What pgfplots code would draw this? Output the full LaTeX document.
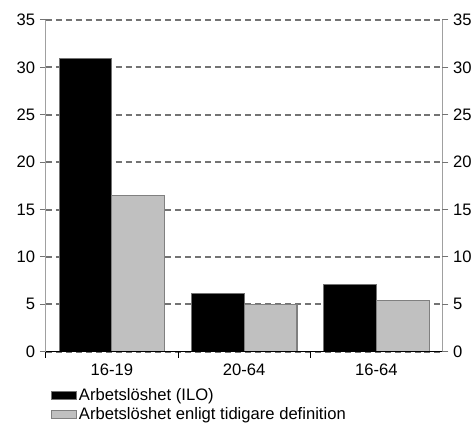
\documentclass[border=0pt]{standalone}
\usepackage{pgfplots}
\pgfplotsset{compat=1.18}
\usepackage{fontspec}
\setmainfont{Liberation Sans}
\definecolor{gridgray}{HTML}{737373}
\definecolor{axisgray}{HTML}{A0A0A0}
\definecolor{barblack}{HTML}{000000}
\definecolor{bargray}{HTML}{C0C0C0}
\definecolor{edgegray}{HTML}{808080}
\begin{document}
\begin{tikzpicture}
\pgfplotsset{
  every axis/.append style={
    scale only axis, width=298.5pt, height=249.75pt,
    xmin=-0.5, xmax=2.5, ymin=0, ymax=35,
    ytick={0,5,...,35},
    tick align=outside, major tick length=4.5pt,
    /pgf/number format/assume math mode=true,
    tick label style={font=\fontsize{12.5}{15}\selectfont},
    axis line style={draw=none},
    y tick style={gridgray, line width=0.8pt},
  }
}
\begin{axis}[
  name=main,
  clip=false,
  ybar=0pt, bar width=0.4,
  xtick={0,1,2},
  xticklabels={16-19,20-64,16-64},
  xtick pos=bottom,
  x tick style={draw=none},
  extra x ticks={-0.5,0.5,1.5},
  extra x tick labels={},
  extra x tick style={grid=none, x tick style={draw=black, line width=0.8pt}},
  xticklabel style={yshift=-1pt},
  ytick pos=left,
  ymajorgrids,
  grid style={gridgray, dash pattern=on 4.5pt off 3pt, line width=1.5pt},
  legend style={at={(rel axis cs:0,0)}, anchor=north west, xshift=4pt, yshift=-26.5pt,
    draw=none, fill=none, inner sep=0pt, row sep=1.25pt,
    font=\fontsize{12.5}{15}\selectfont,
    nodes={inner sep=1.2pt}},
  legend cell align=left,
  legend image code/.code={\draw[#1, line width=0.8pt] (0pt,-3pt) rectangle (18.75pt,3pt);},
]
\addplot[fill=barblack, draw=gridgray, line width=0.8pt] coordinates {(0,30.9) (1,6.1) (2,7.1)};
\addlegendentry{Arbetslöshet (ILO)}
\addplot[fill=bargray, draw=edgegray, line width=0.8pt] coordinates {(0,16.5) (1,5.0) (2,5.4)};
\addlegendentry{Arbetslöshet enligt tidigare definition}
\draw[axisgray, line width=0.8pt] (rel axis cs:0,0) -- (rel axis cs:0,1);
\draw[axisgray, line width=0.8pt] (rel axis cs:1,0) -- (rel axis cs:1,1);
\draw[black, line width=0.8pt] (rel axis cs:0,0) -- (rel axis cs:1,0);
\end{axis}
\begin{axis}[
  xtick=\empty,
  ytick pos=right,
  yticklabel pos=right,
]
\end{axis}
\path (main.south west) ++(-34.5pt,-53.25pt);
\path (main.north east) ++(24pt,15pt);
\end{tikzpicture}
\end{document}
